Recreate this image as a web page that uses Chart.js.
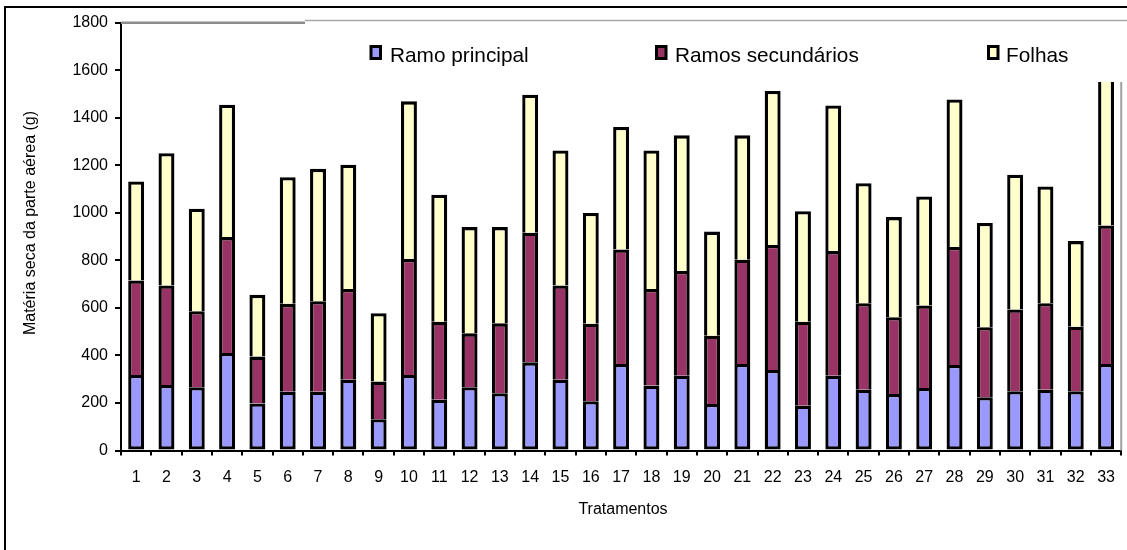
<!DOCTYPE html>
<html>
<head>
<meta charset="utf-8">
<script src="https://cdn.jsdelivr.net/npm/chart.js@4"></script>
<style>
html, body { margin: 0; padding: 0; background: #fff; }
#wrap { width: 1127px; height: 550px; }
</style>
</head>
<body>
<div id="wrap"><canvas id="chart" width="1127" height="550"></canvas></div>
<script>
// dados (g)
const tratamentos = ['1','2','3','4','5','6','7','8','9','10','11','12','13','14','15','16','17','18','19','20','21','22','23','24','25','26','27','28','29','30','31','32','33'];
const ramoPrincipal = [318,276,266,410,198,247,247,298,132,318,214,266,241,371,298,207,364,273,315,196,364,339,188,315,256,238,263,360,224,249,256,249,364];
const ramosSecundarios = [397,418,320,488,197,370,381,382,158,488,328,227,294,545,396,326,482,407,440,287,439,526,354,524,364,323,347,496,295,344,364,272,583];
const folhas = [417,557,431,557,260,533,557,522,288,663,534,447,405,581,568,466,515,582,571,438,523,648,465,613,505,421,459,621,438,567,491,360,709];
const yTicks = [0,200,400,600,800,1000,1200,1400,1600,1800];
const seriesNames = ['Ramo principal', 'Ramos secundários', 'Folhas'];
const seriesColors = ['#9999ff', '#993366', '#ffffcc'];
const yTitle = 'Matéria seca da parte aérea (g)';
const xTitle = 'Tratamentos';

const FONT = '"Liberation Sans", Arial, sans-serif';
Chart.defaults.font.family = FONT;
Chart.defaults.color = '#000';

// moldura, legenda e títulos desenhados à mão
const decor = {
  id: 'decor',
  beforeDatasetsDraw(chart) {
    const {ctx, chartArea: a} = chart;
    ctx.save();
    ctx.strokeStyle = '#a0a0a0';
    ctx.lineWidth = 2;
    ctx.beginPath();
    ctx.moveTo(a.right, a.top); ctx.lineTo(a.right, a.bottom);
    ctx.stroke();
    ctx.strokeStyle = '#8c8c8c';
    ctx.lineWidth = 2.5;
    ctx.beginPath();
    ctx.moveTo(a.left, a.top); ctx.lineTo(a.right, a.top);
    ctx.stroke();
    ctx.restore();
  },
  afterDatasetsDraw(chart) {
    const {ctx} = chart;
    ctx.save();
    // caixa da legenda (cobre o topo da barra 33)
    ctx.fillStyle = '#fff';
    ctx.fillRect(305, 20, 830, 62);
    ctx.strokeStyle = '#a8a8a8';
    ctx.lineWidth = 1.5;
    ctx.beginPath();
    ctx.moveTo(305, 20.5); ctx.lineTo(1127, 20.5);
    ctx.stroke();
    const pos = [[369.5, 390], [655, 675], [987, 1006]];
    ctx.font = '20.8px ' + FONT;
    ctx.textBaseline = 'alphabetic';
    seriesNames.forEach((name, i) => {
      const [bx, tx] = pos[i];
      ctx.fillStyle = '#000';
      ctx.fillRect(bx, 45, 12.5, 15);
      ctx.fillStyle = seriesColors[i];
      ctx.fillRect(bx + 3, 48, 6.5, 9);
      ctx.fillStyle = '#000';
      ctx.fillText(name, tx, 62);
    });
    ctx.restore();
  },
  afterDraw(chart) {
    const {ctx} = chart;
    ctx.save();
    // borda externa
    ctx.strokeStyle = '#000';
    ctx.lineWidth = 2;
    ctx.strokeRect(5, 7, 1140, 560);
    ctx.fillStyle = '#000';
    ctx.font = '16px ' + FONT;
    ctx.textAlign = 'center';
    ctx.textBaseline = 'middle';
    ctx.fillText(xTitle, 623, 510);
    ctx.translate(31, 223);
    ctx.rotate(-Math.PI / 2);
    ctx.fillText(yTitle, 0, 0);
    ctx.restore();
  }
};

new Chart(document.getElementById('chart'), {
  type: 'bar',
  data: {
    labels: tratamentos,
    datasets: [
      { label: seriesNames[0], data: ramoPrincipal, backgroundColor: seriesColors[0], borderSkipped: false },
      { label: seriesNames[1], data: ramosSecundarios, backgroundColor: seriesColors[1], borderSkipped: 'bottom' },
      { label: seriesNames[2], data: folhas, backgroundColor: seriesColors[2], borderSkipped: 'bottom' }
    ]
  },
  options: {
    responsive: false,
    animation: false,
    events: [],
    layout: { autoPadding: false, padding: { top: 22.7, right: 2, left: 0, bottom: 0 } },
    datasets: { bar: { borderColor: '#000', borderWidth: 3.3, barPercentage: 0.526, categoryPercentage: 1 } },
    plugins: { legend: { display: false }, tooltip: { enabled: false } },
    scales: {
      x: {
        stacked: true,
        afterFit: s => { s.height = 99.5; },
        border: { color: '#000', width: 2 },
        grid: { drawOnChartArea: false, drawTicks: true, tickLength: 5, color: '#000', lineWidth: 2 },
        ticks: { font: { size: 16 }, padding: 12, maxRotation: 0, autoSkip: false }
      },
      y: {
        stacked: true,
        min: 0,
        max: 1800,
        afterFit: s => { s.width = 121; },
        afterBuildTicks: s => { s.ticks = yTicks.map(v => ({ value: v })); },
        border: { color: '#000', width: 2 },
        grid: { drawOnChartArea: false, drawTicks: true, tickLength: 6, color: '#000', lineWidth: 2 },
        ticks: { font: { size: 16 }, padding: 7, callback: v => String(v) }
      }
    }
  },
  plugins: [decor]
});
</script>
</body>
</html>
